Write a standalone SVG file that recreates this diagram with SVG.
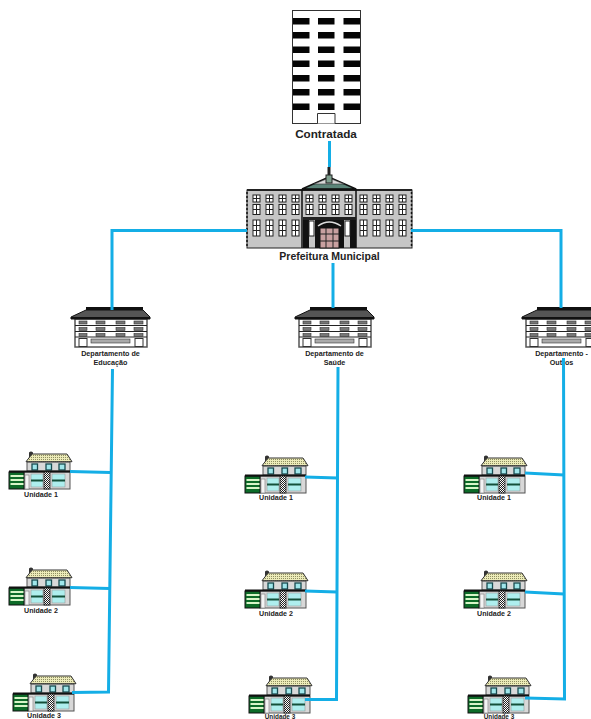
<svg xmlns="http://www.w3.org/2000/svg" xmlns:xlink="http://www.w3.org/1999/xlink" width="591" height="719" viewBox="0 0 591 719">
<style>
text{font-family:"Liberation Sans",Arial,sans-serif;font-weight:bold;text-anchor:middle;fill:#222}
.big{font-size:11.7px}.mid{font-size:10.5px}.sm{font-size:7.2px}.xs{font-size:7.1px}.tiny{font-size:6.4px}
.conn{fill:none;stroke:#14aee6;stroke-width:3;stroke-linejoin:miter}
.w{fill:#fff;stroke:#222;stroke-width:1}
</style>
<defs>
<pattern id="roofp" width="2" height="2" patternUnits="userSpaceOnUse"><rect width="2" height="2" fill="#ecebb8"/><rect width="1" height="1" fill="#8f8f62"/></pattern>
<pattern id="chk" width="2" height="2" patternUnits="userSpaceOnUse"><rect width="2" height="2" fill="#fff"/><rect width="1" height="1" fill="#222"/><rect x="1" y="1" width="1" height="1" fill="#222"/></pattern>
<g id="win"><rect width="7" height="7" class="w"/><path d="M3.500 0V7M0 3.500H7" stroke="#222" stroke-width="1"/></g>
<g id="win2"><rect width="7" height="10" class="w"/><path d="M3.500 0V10M0 5H7" stroke="#222" stroke-width="1"/></g>
<g id="win3"><rect width="7" height="16" class="w"/><path d="M3.500 0V16M0 5.500H7M0 10.500H7" stroke="#222" stroke-width="1"/></g>
<g id="winrow"><use xlink:href="#win" y="0"/><use xlink:href="#win2" y="9.500"/><use xlink:href="#win3" y="25"/></g>
<g id="dept">
<rect x="4" y="12" width="72" height="28" fill="#fff" stroke="#555" stroke-width="1.500"/>
<path d="M15 0H72V3H15Z" fill="#111"/>
<path d="M15 3H72L79 10V12H0V10Z" fill="#555" stroke="#111" stroke-width="1"/>
<path d="M0 11H79" stroke="#111" stroke-width="2"/>
<path d="M4 18.500H76M4 24.500H76M4 30H76" stroke="#222" stroke-width="1.200"/>
<g fill="#777" stroke="#333" stroke-width=".6">
<rect x="8" y="14" width="8" height="3"/><rect x="25" y="14" width="9" height="3"/><rect x="45" y="14" width="9" height="3"/><rect x="63" y="14" width="9" height="3"/>
<rect x="8" y="20.500" width="8" height="3"/><rect x="25" y="20.500" width="9" height="3"/><rect x="45" y="20.500" width="9" height="3"/><rect x="63" y="20.500" width="9" height="3"/>
<rect x="8" y="26.500" width="8" height="3"/><rect x="25" y="26.500" width="9" height="3"/><rect x="45" y="26.500" width="9" height="3"/><rect x="63" y="26.500" width="9" height="3"/>
<rect x="20" y="32" width="39" height="4" fill="#aaa"/></g>
<rect x="8" y="31.500" width="8" height="8" fill="#fff" stroke="#333"/><rect x="64" y="31.500" width="8" height="8" fill="#fff" stroke="#333"/>
</g>
<g id="house">
<path d="M20 6V1.500Q22 -.5 24 1.500V6Z" fill="#333"/>
<rect x="18" y="11" width="43" height="9" fill="#d8d8d8" stroke="#555"/>
<path d="M23 3H58L63 10.700H17Z" fill="url(#roofp)" stroke="#333" stroke-width="1"/>
<g fill="#9fe6ea" stroke="#174b4f" stroke-width="1.300"><rect x="23" y="13" width="5.500" height="6"/><rect x="37" y="13" width="5.500" height="6"/><rect x="50" y="13" width="6" height="6"/></g>
<rect x="15" y="21" width="46" height="17" fill="#d8d8d8" stroke="#555"/>
<rect x="0" y="21" width="15" height="17" fill="#0d6b28" stroke="#111"/>
<path d="M1.500 25H14.500M1.500 29H14.500M1.500 33H14.500" stroke="#d8f5c8" stroke-width="2.200"/>
<path d="M0 20.500H61" stroke="#111" stroke-width="1.800"/>
<g fill="#aeeeee" stroke="#999" stroke-width=".6"><rect x="22" y="23" width="12" height="13"/><rect x="43" y="23" width="13" height="13"/></g>
<path d="M22 29.500H34M43 29.500H56" stroke="#14503a" stroke-width="2"/>
<rect x="35" y="21" width="6" height="17" fill="url(#chk)" stroke="#222" stroke-width=".8"/>
<rect x="16" y="24" width="4" height="14" fill="#f4f4f4" stroke="#777" stroke-width=".6"/>
</g>
</defs>
<rect width="591" height="719" fill="#fff"/>

<g id="contratada">
<rect x="292.500" y="10.500" width="68" height="113" fill="#fff" stroke="#333"/>
<g fill="#050505">
<rect x="293" y="18" width="16.500" height="6.500"/><rect x="318" y="18" width="16.500" height="6.500"/><rect x="343.500" y="18" width="16.500" height="6.500"/>
<rect x="293" y="32" width="16.500" height="6.500"/><rect x="318" y="32" width="16.500" height="6.500"/><rect x="343.500" y="32" width="16.500" height="6.500"/>
<rect x="293" y="46.500" width="16.500" height="6.500"/><rect x="318" y="46.500" width="16.500" height="6.500"/><rect x="343.500" y="46.500" width="16.500" height="6.500"/>
<rect x="293" y="60.500" width="16.500" height="6.500"/><rect x="318" y="60.500" width="16.500" height="6.500"/><rect x="343.500" y="60.500" width="16.500" height="6.500"/>
<rect x="293" y="75" width="16.500" height="6.500"/><rect x="318" y="75" width="16.500" height="6.500"/><rect x="343.500" y="75" width="16.500" height="6.500"/>
<rect x="293" y="89" width="16.500" height="6.500"/><rect x="318" y="89" width="16.500" height="6.500"/><rect x="343.500" y="89" width="16.500" height="6.500"/>
<rect x="293" y="103.500" width="16.500" height="6.500"/><rect x="318" y="103.500" width="16.500" height="6.500"/><rect x="343.500" y="103.500" width="16.500" height="6.500"/>
</g>
<path d="M317.500 123.500V113.500H335V123.500" fill="#fff" stroke="#333"/>
<text class="big" x="326" y="137.500">Contratada</text>
</g>

<g id="prefeitura">
<rect x="247" y="190" width="165" height="58" fill="#c6c6c6" stroke="#222" stroke-width="1"/>
<path d="M247 190H412" stroke="#222" stroke-width="2"/>
<path d="M329 177L302 189H356Z" fill="#5b8478" stroke="#111" stroke-width="1.500"/>
<path d="M314 184H344L329 178Z" fill="#d8d8d8" stroke="#333" stroke-width=".6"/>
<rect x="326" y="175" width="6" height="8" fill="#7fa08f" stroke="#222"/>
<path d="M329 167V175" stroke="#222" stroke-width="3"/>
<path d="M302 189.500H356V248M302 189.500V248" fill="none" stroke="#111" stroke-width="1.500"/>
<use xlink:href="#winrow" x="253" y="195"/><use xlink:href="#winrow" x="266" y="195"/><use xlink:href="#winrow" x="279" y="195"/><use xlink:href="#winrow" x="292" y="195"/>
<use xlink:href="#winrow" x="360" y="195"/><use xlink:href="#winrow" x="373" y="195"/><use xlink:href="#winrow" x="386" y="195"/><use xlink:href="#winrow" x="399" y="195"/>
<use xlink:href="#win" x="306" y="195"/><use xlink:href="#win" x="319" y="195"/><use xlink:href="#win" x="332" y="195"/><use xlink:href="#win" x="345" y="195"/>
<use xlink:href="#win2" x="306" y="204.500"/><use xlink:href="#win2" x="319" y="204.500"/><use xlink:href="#win2" x="332" y="204.500"/><use xlink:href="#win2" x="345" y="204.500"/>
<rect x="303" y="217" width="53" height="3" fill="#222"/>
<rect x="303" y="220" width="6" height="28" fill="#111"/><rect x="350" y="220" width="6" height="28" fill="#111"/>
<rect x="315" y="220" width="29" height="28" fill="#111"/>
<rect x="309" y="221" width="5" height="15" class="w"/><rect x="345" y="221" width="5" height="15" class="w"/>
<rect x="320" y="228" width="19" height="20" fill="#c8a0a0" stroke="#111"/>
<path d="M320 234H339M320 241H339M326 228V248M333 228V248" stroke="#222" stroke-width="1"/>
<path d="M318 226Q329 218 341 226" fill="none" stroke="#ddd" stroke-width="1.500"/>
<path d="M247 192V248M411.500 192V248" stroke="#111" stroke-width="1.500" stroke-dasharray="2 2"/>
<text class="mid" x="329.500" y="260">Prefeitura Municipal</text>
</g>

<g id="dept-educacao"><use xlink:href="#dept" x="71" y="307"/><text class="sm" x="110.500" y="356">Departamento de</text><text class="sm" x="110.500" y="365">Educação</text></g>
<g id="dept-saude"><use xlink:href="#dept" x="295" y="307"/><text class="sm" x="334.500" y="356">Departamento de</text><text class="sm" x="334.500" y="365">Saúde</text></g>
<g id="dept-outros"><use xlink:href="#dept" x="522" y="307"/><text class="sm" x="561.500" y="356">Departamento -</text><text class="sm" x="561.500" y="365">Outros</text></g>

<g id="edu-u1"><use xlink:href="#house" x="9" y="451"/><text class="xs" x="41" y="496.500">Unidade 1</text></g>
<g id="edu-u2"><use xlink:href="#house" x="9" y="567"/><text class="xs" x="41" y="612.500">Unidade 2</text></g>
<g id="edu-u3"><use xlink:href="#house" x="13" y="673"/><text class="xs" x="44" y="718">Unidade 3</text></g>
<g id="sau-u1"><use xlink:href="#house" x="245" y="455"/><text class="xs" x="276" y="500">Unidade 1</text></g>
<g id="sau-u2"><use xlink:href="#house" x="245" y="570"/><text class="xs" x="276" y="615.500">Unidade 2</text></g>
<g id="sau-u3"><use xlink:href="#house" x="249" y="675"/><text class="tiny" x="280" y="718.500">Unidade 3</text></g>
<g id="out-u1"><use xlink:href="#house" x="464" y="455"/><text class="xs" x="494" y="500">Unidade 1</text></g>
<g id="out-u2"><use xlink:href="#house" x="464" y="570"/><text class="xs" x="494" y="615.500">Unidade 2</text></g>
<g id="out-u3"><use xlink:href="#house" x="468" y="675"/><text class="tiny" x="499" y="718.500">Unidade 3</text></g>

<g id="connectors">
<path class="conn" d="M329.500 141V167"/>
<path class="conn" d="M247 230.500H112V310"/>
<path class="conn" d="M411 230.500H561V308"/>
<path class="conn" d="M333 263V308"/>
<path class="conn" d="M112.500 369L108.500 692L72 692.500"/>
<path class="conn" d="M70 471.500L110.500 472.500"/>
<path class="conn" d="M70 587.500L109.500 588.500"/>
<path class="conn" d="M338 367L336.500 699.500H305"/>
<path class="conn" d="M305 477L337.500 478"/>
<path class="conn" d="M305 591L337 592"/>
<path class="conn" d="M563.500 358L564.500 699L525 698"/>
<path class="conn" d="M525 473L564 475"/>
<path class="conn" d="M525 592L564 594"/>
</g>
</svg>
